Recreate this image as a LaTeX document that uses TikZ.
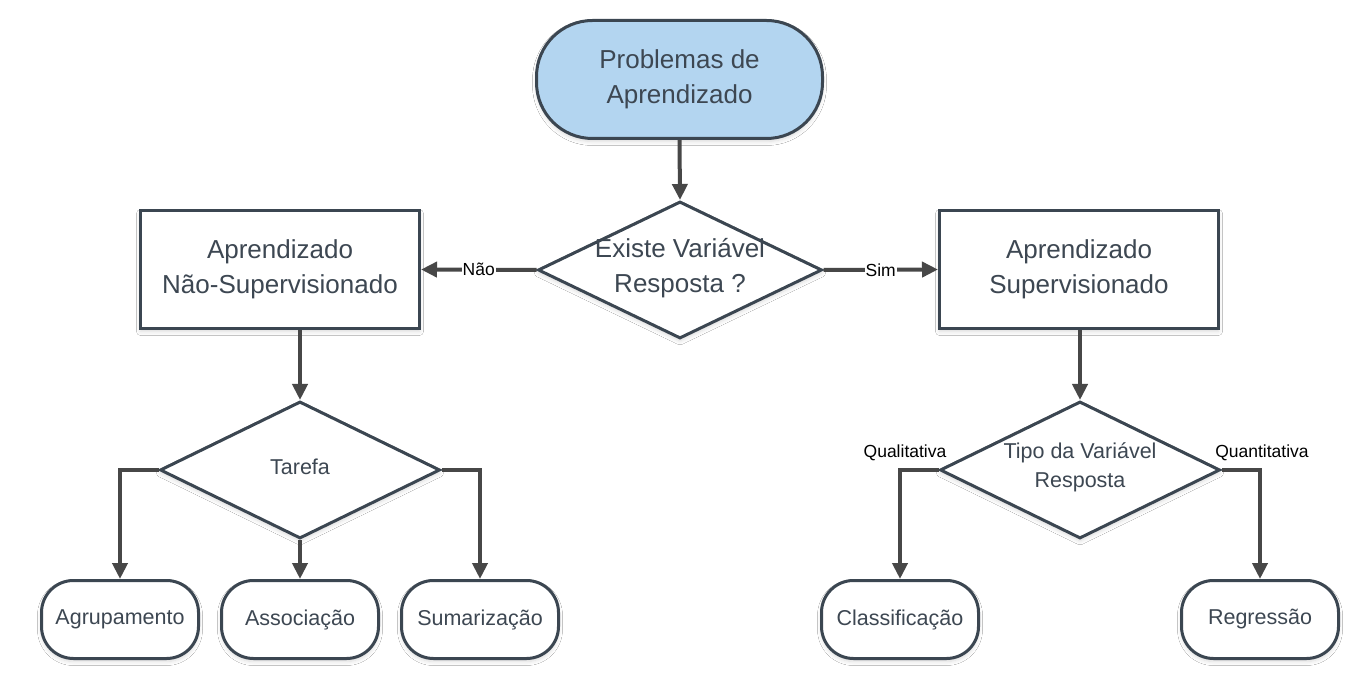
\documentclass[tikz,border=0pt]{standalone}
\usepackage{fontspec}
\setmainfont{Liberation Sans}
\usetikzlibrary{arrows.meta,shapes.geometric,shadows.blur}
\definecolor{bord}{HTML}{3B4651}
\definecolor{txt}{HTML}{3D4752}
\definecolor{arr}{HTML}{474747}
\definecolor{topfill}{HTML}{B3D5F0}
\begin{document}
\begin{tikzpicture}[x=1pt,y=-1pt,
  shadowed/.style={blur shadow={shadow blur steps=6, shadow xshift=0pt, shadow yshift=-3pt, shadow opacity=15, shadow blur radius=4pt}},
  base/.style={draw=bord, line width=3pt, fill=white, text=txt, inner sep=0pt, align=center, shadowed},
  big/.style={font=\fontsize{26}{35}\selectfont},
  small/.style={font=\fontsize{21.5}{29}\selectfont},
  term/.style={base, rounded corners=32pt, minimum width=157pt, minimum height=78pt, small},
  procbox/.style={base, minimum width=279pt, minimum height=118pt, big},
  decis/.style={base, diamond, minimum width=280pt, minimum height=137pt},
  dtext/.style={text=txt, align=center, inner sep=0pt},
  arrow/.style={draw=arr, line width=4pt, -{Triangle[length=16pt,width=15pt]}},
  lbl/.style={text=black, inner sep=1pt, font=\fontsize{17.5}{20}\selectfont},
]
\useasboundingbox (0,0) rectangle (1360,700);
\fill[white] (0,0) rectangle (1360,700);

% top
\node[base, fill=topfill, rounded corners=56pt, minimum width=286pt, minimum height=118pt, big] (top) at (679.5,79.5) {Problemas de\\Aprendizado};

% first decision
\node[decis, minimum width=284pt] (d1) at (680,270) {};
\node[dtext, big] (d1t) at (680,268) {Existe Variável\\Resposta ?};

% process boxes
\node[procbox] (nsup) at (280,269.5) {Aprendizado\\Não-Supervisionado};
\node[procbox] (sup) at (1079,269.5) {Aprendizado\\Supervisionado};

% second-level decisions
\node[decis] (tar) at (300,470) {};
\node[dtext, small] (tart) at (300,467) {Tarefa};
\node[decis] (tipo) at (1080,470) {};
\node[dtext, small] (tipot) at (1080,467) {Tipo da Variável\\Resposta};

% terminals
\node[term] (agr) at (120,619.5) {Agrupamento};
\node[term] (ass) at (300,619.5) {Associação};
\node[term] (sum) at (480,619.5) {Sumarização};
\node[term] (cla) at (900,619.5) {Classificação};
\node[term] (reg) at (1260,619.5) {Regressão};

% connectors
\draw[arrow] (top.south) -- (d1.north);
\draw[arrow] (d1.west) -- node[lbl, fill=white] (nao) {Não} (nsup.east);
\draw[arrow] (d1.east) -- node[lbl, fill=white] (sim) {Sim} (sup.west);
\draw[arrow] (tar.north |- nsup.south) -- (tar.north);
\draw[arrow] (tipo.north |- sup.south) -- (tipo.north);
\draw[arrow] (tar.west) -| (agr.north);
\draw[arrow] (tar.south) -- (ass.north);
\draw[arrow] (tar.east) -| (sum.north);
\draw[arrow] (tipo.west) -| (cla.north);
\draw[arrow] (tipo.east) -| (reg.north);

\node[lbl] (qual) at (905,453) {Qualitativa};
\node[lbl] (quan) at (1262,453) {Quantitativa};
\end{tikzpicture}
\end{document}
